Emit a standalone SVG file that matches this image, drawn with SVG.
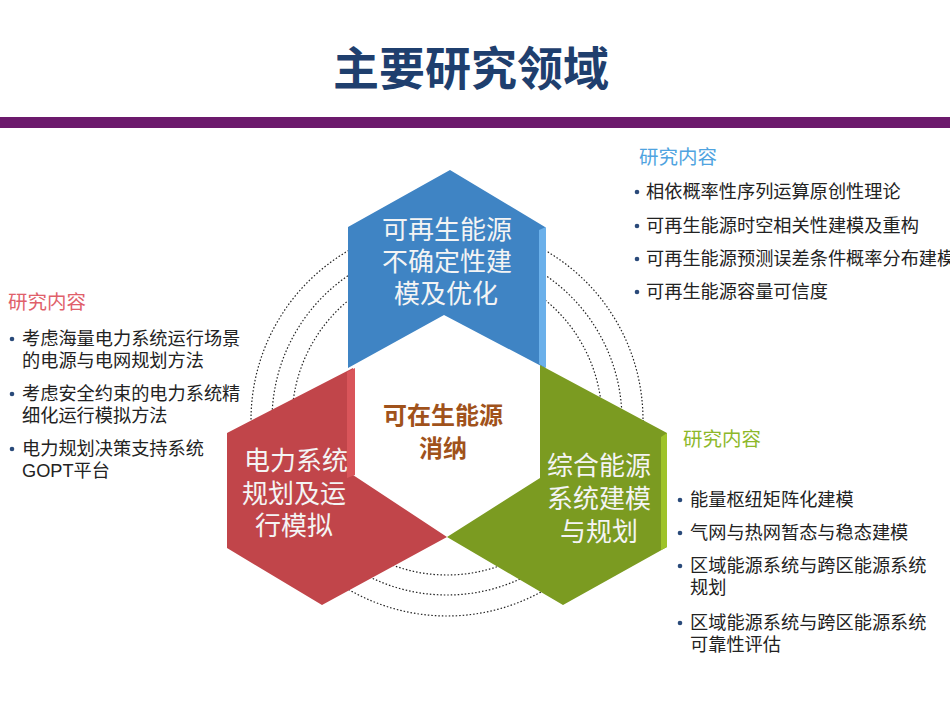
<svg xmlns="http://www.w3.org/2000/svg" width="950" height="713" viewBox="0 0 950 713">
<style>
text{font-family:"Liberation Sans","Noto Sans CJK SC",sans-serif}
.li{font-size:18.2px;fill:#222}
.dot{fill:#2a4a7a}
.hd{font-size:19.5px}
.nt{font-size:26px;fill:#f4f4f4;text-anchor:middle}
.ring{fill:none;stroke:#222;stroke-width:1.2;stroke-dasharray:1.5 2}
</style>
<rect width="950" height="713" fill="#fff"/>
<text x="471" y="85" font-size="46" font-weight="bold" fill="#1f3f6e" text-anchor="middle">主要研究领域</text>
<rect x="0" y="117" width="950" height="11" fill="#6c1a6c"/>
<g id="rings">
<circle class="ring" cx="447" cy="420" r="155"/>
<circle class="ring" cx="447" cy="420" r="175"/>
<circle class="ring" cx="447" cy="420" r="196"/>
</g>
<g id="node-blue">
<polygon points="450,170 545,227 545,368 444,315 348,368 348,227" fill="#3f84c4"/>
<polygon points="539,230 546,227 546,368 539,364" fill="#6bb0ea"/>
<text class="nt" x="447" y="239">可再生能源</text>
<text class="nt" x="447" y="271">不确定性建</text>
<text class="nt" x="446" y="303">模及优化</text>
</g>
<g id="node-red">
<polygon points="353,368 353,475 447,537 322,605 227,548 227,433" fill="#c1454a"/>
<polygon points="347,372 355,368 355,475 347,478" fill="#d9555a"/>
<text class="nt" x="296" y="470">电力系统</text>
<text class="nt" x="294" y="503">规划及运</text>
<text class="nt" x="294" y="535">行模拟</text>
</g>
<g id="node-green">
<polygon points="540,365 667,433 667,547 563,605 447,537 540,478" fill="#7b9b21"/>
<polygon points="661,437 667,433 667,547 661,550" fill="#9ec32a"/>
<text class="nt" x="599" y="475">综合能源</text>
<text class="nt" x="599" y="508">系统建模</text>
<text class="nt" x="599" y="541">与规划</text>
</g>
<g id="node-center">
<text x="443" y="424" font-size="24" font-weight="bold" fill="#a0521b" text-anchor="middle">可在生能源</text>
<text x="443" y="457" font-size="24" font-weight="bold" fill="#a0521b" text-anchor="middle">消纳</text>
</g>
<g id="list-top">
<text class="hd" x="639" y="164" fill="#4fa3e0">研究内容</text>
<circle class="dot" cx="637" cy="192" r="2.3"/><text class="li" x="646" y="198">相依概率性序列运算原创性理论</text>
<circle class="dot" cx="637" cy="226" r="2.3"/><text class="li" x="646" y="232">可再生能源时空相关性建模及重构</text>
<circle class="dot" cx="637" cy="259" r="2.3"/><text class="li" x="646" y="265">可再生能源预测误差条件概率分布建模</text>
<circle class="dot" cx="637" cy="292" r="2.3"/><text class="li" x="646" y="298">可再生能源容量可信度</text>
</g>
<g id="list-left">
<text class="hd" x="8" y="309" fill="#e0606a">研究内容</text>
<circle class="dot" cx="12" cy="339" r="2.3"/><text class="li" x="22" y="345">考虑海量电力系统运行场景</text>
<text class="li" x="22" y="367">的电源与电网规划方法</text>
<circle class="dot" cx="12" cy="394" r="2.3"/><text class="li" x="22" y="400">考虑安全约束的电力系统精</text>
<text class="li" x="22" y="422">细化运行模拟方法</text>
<circle class="dot" cx="12" cy="449" r="2.3"/><text class="li" x="22" y="455">电力规划决策支持系统</text>
<text class="li" x="22" y="477">GOPT平台</text>
</g>
<g id="list-right">
<text class="hd" x="683" y="446" fill="#8db82a">研究内容</text>
<circle class="dot" cx="680" cy="500" r="2.3"/><text class="li" x="690" y="506">能量枢纽矩阵化建模</text>
<circle class="dot" cx="680" cy="533" r="2.3"/><text class="li" x="690" y="539">气网与热网暂态与稳态建模</text>
<circle class="dot" cx="680" cy="566" r="2.3"/><text class="li" x="690" y="572">区域能源系统与跨区能源系统</text>
<text class="li" x="690" y="594">规划</text>
<circle class="dot" cx="680" cy="623" r="2.3"/><text class="li" x="690" y="629">区域能源系统与跨区能源系统</text>
<text class="li" x="690" y="651">可靠性评估</text>
</g>
</svg>
